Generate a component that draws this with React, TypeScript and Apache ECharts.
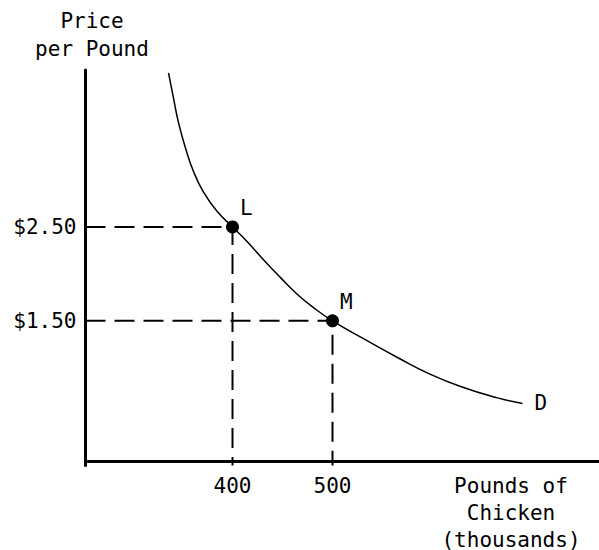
import React, { useEffect, useRef } from "react";
import * as echarts from "echarts";

// Demand curve samples (thousands of pounds, $ per pound)
const curveQty = [336, 341, 346, 353, 361, 371, 385, 400, 415, 431, 448, 465, 481, 500, 531, 565, 598, 631, 665, 690];
const curvePrice = [4.14, 3.87, 3.61, 3.34, 3.09, 2.87, 2.66, 2.5, 2.34, 2.15, 1.96, 1.78, 1.64, 1.5, 1.31, 1.11, 0.93, 0.79, 0.68, 0.62];

// Labelled points
const pointNames = ["L", "M"];
const pointQty = [400, 500];
const pointPrice = [2.5, 1.5];

// Tick labels
const xTicks = [400, 500];
const yTicks = [1.5, 2.5];

const X_MIN = 253;
const X_MAX = 767;
const Y_MIN = -0.04;
const Y_MAX = 4.17;

const FONT = "DejaVu Sans Mono";

export default function App() {
  const ref = useRef<HTMLDivElement>(null);

  useEffect(() => {
    document.body.style.margin = "0";
    if (!ref.current) return;
    const chart = echarts.init(ref.current, null, { renderer: "svg" });

    const guideSeries = pointQty.map((q, i) => ({
      type: "line",
      data: [
        [X_MIN, pointPrice[i]],
        [q, pointPrice[i]],
        [q, Y_MIN],
      ],
      symbol: "none",
      silent: true,
      z: 1,
      lineStyle: { color: "#000", width: 2, type: [20, 9] },
    }));

    chart.setOption({
      animation: false,
      backgroundColor: "#fff",
      textStyle: { fontFamily: FONT, color: "#000" },
      grid: { left: 85.5, top: 70, width: 514, height: 395.5, containLabel: false, outerBoundsMode: "none" },
      xAxis: {
        type: "value",
        min: X_MIN,
        max: X_MAX,
        axisLine: { show: true, lineStyle: { color: "#000", width: 3 } },
        axisTick: { show: false },
        splitLine: { show: false },
        axisLabel: {
          customValues: xTicks,
          color: "#000",
          fontFamily: FONT,
          fontSize: 21,
          margin: 10,
        },
      },
      yAxis: {
        type: "value",
        min: Y_MIN,
        max: Y_MAX,
        axisLine: { show: true, lineStyle: { color: "#000", width: 3 } },
        axisTick: { show: false },
        splitLine: { show: false },
        axisLabel: {
          customValues: yTicks,
          formatter: (v: number) => "$" + v.toFixed(2),
          color: "#000",
          fontFamily: FONT,
          fontSize: 21,
          margin: 9,
        },
      },
      graphic: [
        {
          type: "text",
          x: 92,
          y: 7,
          style: {
            text: "Price\nper Pound",
            align: "center",
            verticalAlign: "top",
            font: `21px "${FONT}"`,
            lineHeight: 28,
            fill: "#000",
          },
        },
        {
          type: "text",
          x: 511,
          y: 472,
          style: {
            text: "Pounds of\nChicken\n(thousands)",
            align: "center",
            verticalAlign: "top",
            font: `21px "${FONT}"`,
            lineHeight: 27,
            fill: "#000",
          },
        },
      ],
      series: [
        {
          type: "line",
          data: curveQty.map((q, i) => [q, curvePrice[i]]),
          smooth: 0.5,
          symbol: "none",
          z: 2,
          lineStyle: { color: "#000", width: 1.5 },
          endLabel: {
            show: true,
            formatter: "D",
            color: "#000",
            fontFamily: FONT,
            fontSize: 21,
            distance: 12,
          },
        },
        ...guideSeries,
        {
          type: "scatter",
          data: pointQty.map((q, i) => ({ name: pointNames[i], value: [q, pointPrice[i]] })),
          symbol: "circle",
          symbolSize: 13,
          z: 3,
          itemStyle: { color: "#000", opacity: 1 },
          label: {
            show: true,
            formatter: (p: any) => p.name,
            position: "right",
            offset: [0, -19],
            distance: 1,
            color: "#000",
            fontFamily: FONT,
            fontSize: 21,
          },
        },
      ],
    });

    return () => chart.dispose();
  }, []);

  return <div ref={ref} style={{ width: 599, height: 550 }} />;
}
